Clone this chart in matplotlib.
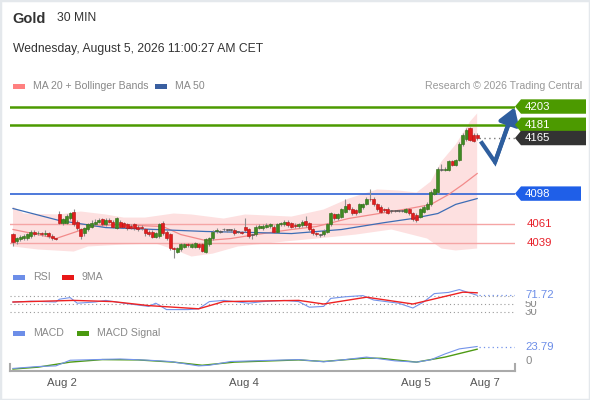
import numpy as np
import matplotlib
matplotlib.use("Agg")
import matplotlib.pyplot as plt
from matplotlib.patches import Polygon, Rectangle

plt.rcParams['font.family'] = ['Liberation Sans', 'DejaVu Sans']

# ---------------- data ----------------
opens = [4049, 4041, 4043, 4044, 4044, 4047, 4052, 4050, 4050, 4049, 4050, 4047, 4044,
         4073, 4062, 4063, 4068, 4076, 4064, 4055, 4050, 4055, 4058, 4061, 4064, 4067,
         4061, 4066, 4064, 4057, 4064, 4062, 4061, 4059, 4061, 4058, 4058, 4055, 4052,
         4052, 4046, 4047, 4063, 4052, 4049, 4032, 4028, 4031, 4034, 4037, 4034, 4034,
         4037, 4037, 4028, 4037, 4044, 4053, 4052, 4055, 4054, 4054, 4054, 4052, 4052,
         4058, 4055, 4048, 4049, 4057, 4056, 4058, 4059, 4058, 4052, 4061, 4061, 4064,
         4062, 4060, 4059, 4060, 4065, 4062, 4055, 4050, 4048, 4049, 4052, 4061, 4073,
         4068, 4070, 4076, 4085, 4080, 4078, 4076, 4082, 4086, 4092, 4092, 4085, 4082,
         4079, 4080, 4077, 4077, 4077, 4077, 4076, 4079, 4074, 4072, 4070, 4076, 4080,
         4085, 4098, 4100, 4127, 4127, 4127, 4137, 4133, 4139, 4158, 4164, 4177, 4169,
         4169]
closes = [4040, 4044, 4046, 4047, 4049, 4052, 4049, 4051, 4049, 4051, 4047, 4044, 4043,
          4063, 4067, 4071, 4074, 4061, 4057, 4047, 4056, 4061, 4063, 4064, 4066, 4061,
          4066, 4064, 4058, 4068, 4058, 4058, 4056, 4057, 4056, 4055, 4056, 4051, 4049,
          4046, 4050, 4061, 4050, 4044, 4032, 4031, 4032, 4037, 4037, 4036, 4037, 4038,
          4033, 4029, 4043, 4044, 4052, 4054, 4052, 4055, 4054, 4054, 4050, 4052, 4051,
          4054, 4047, 4048, 4058, 4059, 4059, 4060, 4061, 4052, 4061, 4062, 4064, 4060,
          4058, 4059, 4061, 4064, 4060, 4055, 4050, 4049, 4048, 4053, 4061, 4074, 4068,
          4073, 4079, 4083, 4080, 4074, 4074, 4085, 4085, 4092, 4091, 4085, 4079, 4076,
          4078, 4075, 4077, 4077, 4077, 4077, 4079, 4074, 4067, 4066, 4079, 4082, 4086,
          4100, 4103, 4128, 4127, 4128, 4137, 4133, 4138, 4158, 4169, 4175, 4163, 4162,
          4165]
highs = [4051, 4046, 4048, 4049, 4051, 4054, 4054, 4053, 4052, 4054, 4052, 4049, 4045,
         4077, 4069, 4073, 4076, 4079, 4066, 4057, 4058, 4063, 4066, 4067, 4068, 4069,
         4068, 4068, 4066, 4070, 4066, 4064, 4063, 4061, 4063, 4060, 4060, 4057, 4054,
         4054, 4052, 4063, 4065, 4054, 4051, 4033, 4034, 4039, 4039, 4038, 4039, 4040,
         4039, 4039, 4045, 4046, 4054, 4056, 4054, 4056, 4055, 4055, 4056, 4053, 4053,
         4068, 4057, 4049, 4060, 4061, 4061, 4062, 4063, 4060, 4063, 4064, 4066, 4066,
         4064, 4062, 4063, 4066, 4071, 4064, 4057, 4052, 4049, 4055, 4063, 4076, 4075,
         4075, 4081, 4091, 4087, 4082, 4080, 4087, 4087, 4094, 4104, 4094, 4087, 4084,
         4081, 4082, 4078, 4078, 4078, 4078, 4081, 4081, 4076, 4074, 4081, 4084, 4088,
         4102, 4105, 4130, 4134, 4130, 4139, 4139, 4140, 4160, 4171, 4177, 4178, 4171,
         4171]
lows = [4035, 4037, 4041, 4042, 4042, 4045, 4047, 4048, 4047, 4047, 4045, 4042, 4042,
        4061, 4060, 4061, 4066, 4059, 4054, 4043, 4047, 4053, 4056, 4059, 4062, 4059,
        4059, 4062, 4056, 4055, 4056, 4056, 4054, 4055, 4054, 4053, 4054, 4047, 4047,
        4044, 4044, 4045, 4048, 4042, 4030, 4020, 4026, 4029, 4032, 4034, 4032, 4032,
        4031, 4027, 4026, 4035, 4042, 4051, 4050, 4053, 4052, 4052, 4048, 4050, 4049,
        4052, 4045, 4043, 4047, 4055, 4054, 4056, 4057, 4050, 4050, 4059, 4059, 4058,
        4056, 4057, 4057, 4058, 4058, 4053, 4048, 4047, 4046, 4047, 4050, 4059, 4066,
        4066, 4068, 4074, 4078, 4072, 4072, 4074, 4080, 4084, 4089, 4083, 4077, 4074,
        4076, 4073, 4075, 4076, 4076, 4076, 4074, 4072, 4065, 4064, 4068, 4074, 4078,
        4083, 4096, 4098, 4125, 4125, 4125, 4131, 4131, 4137, 4156, 4162, 4161, 4160,
        4163]

ma20_idx = [0, 7, 12, 17, 22, 29, 35, 42, 47, 54, 61, 68, 78, 85, 94, 106, 111, 117, 122, 126, 130]
ma20_val = [4054.7, 4048.6, 4043.8, 4051.0, 4058.3, 4060.7, 4059.5, 4058.3, 4048.6, 4041.4,
            4043.8, 4048.6, 4054.7, 4058.3, 4068.0, 4076.4, 4080.0, 4084.8, 4096.9, 4109.0, 4122.2]
ma50_idx = [0, 13, 26, 40, 54, 68, 78, 92, 104, 112, 119, 124, 130]
ma50_val = [4080.0, 4065.5, 4057.0, 4054.7, 4052.3, 4051.0, 4049.8, 4054.7, 4063.0, 4068.0,
            4074.0, 4085.0, 4092.0]
bb_up_idx = [0, 3, 13, 19, 26, 31, 37, 45, 50, 59, 65, 78, 87, 94, 102, 108, 113, 117, 120, 124, 128, 130]
bb_up_val = [4082.4, 4074.0, 4072.8, 4076.4, 4072.8, 4069.1, 4069.1, 4074.0, 4072.8, 4067.9,
             4072.8, 4070.3, 4078.8, 4092.0, 4103.0, 4101.7, 4099.3, 4112.5, 4136.7, 4157.2,
             4184.9, 4194.6]
bb_lo_idx = [0, 7, 17, 21, 31, 40, 45, 50, 56, 63, 68, 76, 85, 96, 106, 116, 120, 124, 130]
bb_lo_val = [4034.2, 4030.6, 4028.1, 4034.2, 4036.6, 4037.8, 4030.6, 4022.1, 4025.7, 4034.2,
             4036.6, 4040.2, 4043.8, 4048.6, 4054.7, 4043.8, 4031.8, 4029.4, 4031.8]

resistance_levels = [4203, 4181]
pivot_level = 4098
support_levels = [4061, 4039]
last_price = 4165

forecast_offsets = [1.0, 5.0, 10.5]
forecast_prices = [4161, 4136, 4202]

rsi_idx = [0, 5, 12, 13, 16, 18, 23, 26, 31, 38, 40, 43, 49, 52, 55, 59, 66, 70, 76, 80, 83,
           87, 89, 93, 98, 101, 108, 112, 115, 118, 122, 125, 130]
rsi_val = [54.8, 57, 55, 62, 66, 52, 55, 59, 52, 44, 52, 36, 36, 38, 56, 59, 52, 56, 59, 56, 42,
           44, 64, 68, 71, 60, 52, 40, 55, 76, 79, 86, 71.72]
rsi_ma_idx = [0, 17, 28, 38, 52, 59, 80, 87, 99, 112, 126, 130]
rsi_ma_val = [55, 59, 56, 46, 38, 56, 59, 50, 67, 50, 79.6, 78]
rsi_levels = [70, 50, 30]
rsi_last = 71.72

macd_idx = [0, 7, 12, 16, 23, 30, 38, 44, 52, 55, 61, 70, 80, 87, 93, 99, 107, 113, 117, 121, 125, 130]
macd_val = [-11, -8, -7, 2, 3, 4, 2, 0, -7, -6, 0, 1.5, 3, -0.5, 3, 7, 1, -1, 2.7, 12, 20, 23.79]
sig_idx = [0, 7, 16, 25, 35, 45, 53, 62, 80, 87, 99, 103, 113, 121, 130]
sig_val = [-12, -9, -1, 3, 2.5, -1, -6, -1, 2.5, 0, 5.5, 5, -1, 7, 19.5]
macd_last = 23.79

date_tick_idx = [13.7, 64.7, 112.9, 132.2]
date_tick_labels = ['Aug 2', 'Aug 4', 'Aug 5', 'Aug 7']

# ---------------- layout ----------------
W, H = 590, 400
fig = plt.figure(figsize=(W / 100, H / 100), dpi=100)
fig.patch.set_facecolor('white')


def fx(px):
    return px / W


def fy(py):
    return 1 - py / H


def add_ax(x0, x1, y0, y1):
    a = fig.add_axes([fx(x0), fy(y1), (x1 - x0) / W, (y1 - y0) / H])
    a.set_facecolor('none')
    for s in a.spines.values():
        s.set_visible(False)
    a.set_xticks([])
    a.set_yticks([])
    return a


AX_L, AX_R = 10, 515
XLIM = (-0.84, 140.6)
AXW = AX_R - AX_L

# figure border
fig.patches.append(Rectangle((0, 0), 1, 1, transform=fig.transFigure, fill=False,
                             edgecolor='#e4e8ec', lw=2.5))

# ---------------- main price panel ----------------
MAIN_TOP, MAIN_BOT = 96.5, 263.5
ax = add_ax(AX_L, AX_R, MAIN_TOP, MAIN_BOT)
ax.set_xlim(*XLIM)
ax.set_ylim(4013.7, 4215.1)
ppu = (MAIN_BOT - MAIN_TOP) / (4215.1 - 4013.7)  # pixels per price unit

# bollinger band (polygon through the read points)
band_x = list(bb_up_idx) + list(bb_lo_idx[::-1])
band_y = list(bb_up_val) + list(bb_lo_val[::-1])
ax.fill(band_x, band_y, color='#fde0e0', lw=0, zorder=1)

ax.plot(ma20_idx, ma20_val, color='#f28a8a', lw=0.9, zorder=2)
ax.plot(ma50_idx, ma50_val, color='#3d6db5', lw=0.9, zorder=2)

# level lines
for lv in resistance_levels:
    ax.axhline(lv, color='#4c9a00', lw=1.8, zorder=1.5)
ax.axhline(pivot_level, color='#2f62d4', lw=1.2, zorder=1.5)
for lv in support_levels:
    ax.axhline(lv, color='#f5a5a5', lw=1.0, zorder=1.5)

# candles
idx = np.arange(len(closes))
o = np.array(opens, float)
c = np.array(closes, float)
hi = np.array(highs, float)
lo = np.array(lows, float)
ax.vlines(idx, lo, hi, color='#8c8c8c', lw=0.8, zorder=3)
bottoms = np.minimum(o, c)
heights = np.maximum(np.abs(c - o), 0.9)
cols = np.where(c > o, '#3f8a22', np.where(c < o, '#e21d1d', '#555555'))
edges = np.where(c > o, '#2d6a14', np.where(c < o, '#b31010', '#555555'))
ax.bar(idx, heights, bottom=bottoms, width=0.85, color=cols, edgecolor=edges, lw=0.4, zorder=4)

# last price dotted line
last_i = idx[-1]
ax.plot([last_i + 0.6, XLIM[1]], [last_price, last_price], color='#777777', lw=1.0,
        ls=(0, (1, 2.5)), zorder=3)

# forecast arrow
fc_x = [last_i + d for d in forecast_offsets]
ax.plot(fc_x[:-1] + [fc_x[-1] - 0.7], forecast_prices[:-1] + [forecast_prices[-1] - 7],
        color='#2e5e9e', lw=3.0, solid_capstyle='butt', solid_joinstyle='miter', zorder=6,
        clip_on=False)
ax.annotate('', xy=(fc_x[-1], forecast_prices[-1]), xytext=(fc_x[-2], forecast_prices[-2]),
            arrowprops=dict(arrowstyle='-|>,head_length=0.7,head_width=0.45', color='#2e5e9e',
                            lw=3.0, shrinkA=0, shrinkB=0, mutation_scale=14),
            zorder=6, annotation_clip=False)

# right labels
ytr = ax.get_yaxis_transform()
hh = 7.2 / ppu


def price_box(level, face, right_px):
    b = 1 + 6 / AXW
    r = 1 + (right_px - AX_R) / AXW
    poly = Polygon([(1.0, level), (b, level + hh), (r, level + hh), (r, level - hh), (b, level - hh)],
                   closed=True, transform=ytr, clip_on=False, facecolor=face, edgecolor='none',
                   zorder=7)
    ax.add_patch(poly)
    ax.text(1 + 10 / AXW, level, f'{level:g}', transform=ytr, va='center', ha='left',
            color='white', fontsize=8.2, zorder=8, clip_on=False)


price_box(resistance_levels[0], '#4c9a00', 586)
price_box(resistance_levels[1], '#4c9a00', 586)
price_box(last_price, '#333333', 586)
price_box(pivot_level, '#1f5fe8', 581)
for lv in support_levels:
    ax.text(1 + 12 / AXW, lv, f'{lv:g}', transform=ytr, va='center', ha='left',
            color='#e8202a', fontsize=8.2, clip_on=False)

# ---------------- RSI panel ----------------
ax_r = add_ax(AX_L, AX_R, 284, 318)
ax_r.set_xlim(*XLIM)
ax_r.set_ylim(15, 100)
ryt = ax_r.get_yaxis_transform()
for lv in rsi_levels:
    ax_r.plot([0, 1], [lv, lv], transform=ryt, color='#9a9a9a', lw=0.8, ls=(0, (1, 2.5)))
ax_r.plot(rsi_idx, rsi_val, color='#7393ea', lw=0.8, zorder=3)
ax_r.plot(rsi_ma_idx, rsi_ma_val, color='#ee2222', lw=1.0, zorder=4)
ax_r.plot([rsi_ma_idx[-1] + 0.5, XLIM[1]], [rsi_last, rsi_last], color='#7393ea', lw=0.9,
          ls=(0, (1, 2.5)))
for lv in rsi_levels[::-1]:
    if lv == 70:
        continue
    ax_r.text(1 + 10 / AXW, lv, f'{lv}', transform=ryt, va='center', ha='left', color='#888888',
              fontsize=8.2, clip_on=False,
              bbox=dict(facecolor='white', edgecolor='none', pad=0.2))
ax_r.text(1 + 10 / AXW, rsi_last, f'{rsi_last:.2f}', transform=ryt, va='center', ha='left',
          color='#6d8ee8', fontsize=8.2, clip_on=False,
          bbox=dict(facecolor='white', edgecolor='none', pad=0.2))

# ---------------- MACD panel ----------------
ax_m = add_ax(AX_L, AX_R, 338, 371)
ax_m.set_xlim(*XLIM)
ymin_m = -15.1
ax_m.set_ylim(ymin_m, 37.3)
myt = ax_m.get_yaxis_transform()
ax_m.plot(sig_idx, sig_val, color='#4e9a14', lw=1.0, zorder=3)
ax_m.plot(macd_idx, macd_val, color='#7393ea', lw=0.8, zorder=4)
ax_m.plot([macd_idx[-1] + 0.5, XLIM[1]], [macd_last, macd_last], color='#7393ea', lw=0.9,
          ls=(0, (1, 2.5)))
ax_m.text(1 + 10 / AXW, macd_last, f'{macd_last:.2f}', transform=myt, va='center', ha='left',
          color='#6d8ee8', fontsize=8.2, clip_on=False)
ax_m.text(1 + 10 / AXW, 0, '0', transform=myt, va='center', ha='left',
          color='#888888', fontsize=8.2, clip_on=False)

for side in ['bottom', 'left', 'right']:
    ax_m.spines[side].set_visible(True)
    ax_m.spines[side].set_color('#aaaaaa')
    ax_m.spines[side].set_linewidth(1.5)
ax_m.spines['left'].set_bounds(ymin_m, ymin_m + 7 / 0.63)
ax_m.spines['right'].set_bounds(ymin_m, ymin_m + 7 / 0.63)
ax_m.set_xticks(date_tick_idx)
ax_m.set_xticklabels(date_tick_labels, fontsize=8.2, color='#555555')
ax_m.tick_params(axis='x', length=0, pad=5)

# ---------------- header & legends ----------------
def ftext(x, y, s, **kw):
    fig.text(fx(x), fy(y), s, va='center', **kw)


def swatch(x, y, color):
    fig.patches.append(Rectangle((fx(x), fy(y + 2.5)), 12 / W, 5 / H, transform=fig.transFigure,
                                 facecolor=color, edgecolor='none'))


ftext(12, 19, 'Gold', fontsize=10.5, fontweight='bold', color='#333333')
ftext(57, 18, '30 MIN', fontsize=8.7, color='#333333')
ftext(13, 49, 'Wednesday, August 5, 2026 11:00:27 AM CET', fontsize=8.7, color='#333333')

swatch(13, 86, '#ff8080')
ftext(33, 86, 'MA 20 + Bollinger Bands', fontsize=7.6, color='#888888')
swatch(155, 86, '#3a5fa0')
ftext(175, 86, 'MA 50', fontsize=7.6, color='#888888')
ftext(582, 86, 'Research \u00a9 2026 Trading Central', fontsize=7.6, color='#999999', ha='right')

swatch(13, 277, '#6d8ee8')
ftext(33, 277, 'RSI', fontsize=7.6, color='#888888')
swatch(62, 277, '#e81818')
ftext(82, 277, '9MA', fontsize=7.6, color='#888888')

swatch(13, 333, '#6d8ee8')
ftext(33, 333, 'MACD', fontsize=7.6, color='#888888')
swatch(77, 333, '#4a9a10')
ftext(97, 333, 'MACD Signal', fontsize=7.6, color='#888888')

fig.savefig('out.png', dpi=100)
